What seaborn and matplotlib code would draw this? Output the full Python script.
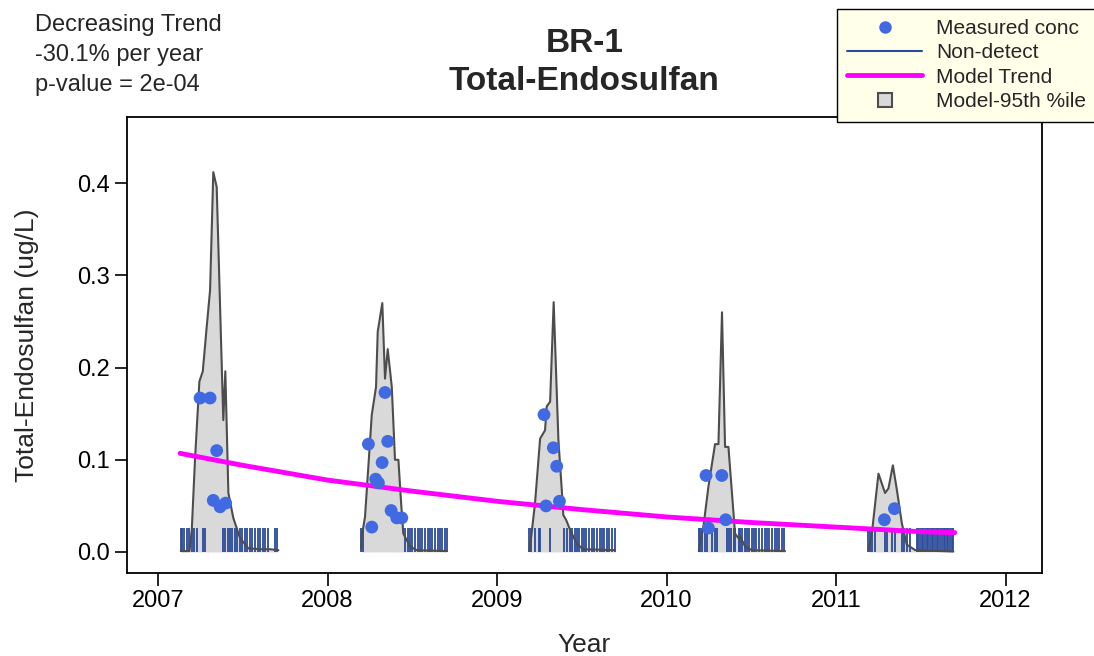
import seaborn as sns
import pandas as pd
import matplotlib.pyplot as plt
from matplotlib.lines import Line2D

# measured (detected) concentrations
det_year = [2007.248, 2007.307, 2007.346, 2007.326, 2007.366, 2007.399,
            2008.339, 2008.241, 2008.355, 2008.322, 2008.284, 2008.300, 2008.375, 2008.408, 2008.438, 2008.261,
            2009.277, 2009.332, 2009.352, 2009.289, 2009.368,
            2010.233, 2010.326, 2010.349, 2010.247,
            2011.344, 2011.285]
det_conc = [0.167, 0.167, 0.110, 0.056, 0.049, 0.053,
            0.173, 0.117, 0.120, 0.097, 0.079, 0.075, 0.045, 0.037, 0.037, 0.027,
            0.149, 0.113, 0.093, 0.050, 0.055,
            0.083, 0.083, 0.035, 0.026,
            0.047, 0.035]

# non-detect sample dates (drawn from 0 up to the reporting limit)
nd_year = [2007.134, 2007.143, 2007.155, 2007.169, 2007.185, 2007.199, 2007.214, 2007.228, 2007.264, 2007.277,
           2007.382, 2007.395, 2007.411, 2007.425, 2007.438, 2007.454, 2007.468, 2007.484, 2007.497, 2007.513,
           2007.527, 2007.543, 2007.556, 2007.572, 2007.588, 2007.602, 2007.618, 2007.631, 2007.647, 2007.690, 2007.700,
           2008.198, 2008.209, 2008.457, 2008.472, 2008.487, 2008.501, 2008.516, 2008.531, 2008.546, 2008.560,
           2008.575, 2008.590, 2008.605, 2008.619, 2008.634, 2008.649, 2008.664, 2008.678, 2008.693, 2008.705,
           2009.191, 2009.202, 2009.226, 2009.246, 2009.255, 2009.314, 2009.394, 2009.413, 2009.432, 2009.442,
           2009.462, 2009.472, 2009.486, 2009.501, 2009.511, 2009.525, 2009.541, 2009.560, 2009.574, 2009.590,
           2009.609, 2009.619, 2009.633, 2009.649, 2009.663, 2009.678, 2009.694,
           2010.190, 2010.199, 2010.209, 2010.229, 2010.239, 2010.268, 2010.288, 2010.298, 2010.357, 2010.367,
           2010.382, 2010.396, 2010.406, 2010.426, 2010.435, 2010.445, 2010.461, 2010.475, 2010.488, 2010.504,
           2010.514, 2010.527, 2010.544, 2010.563, 2010.579, 2010.593, 2010.606, 2010.622, 2010.638, 2010.652,
           2010.666, 2010.681, 2010.691,
           2011.191, 2011.201, 2011.211, 2011.230, 2011.289, 2011.299, 2011.329, 2011.348, 2011.388, 2011.398,
           2011.417, 2011.437, 2011.476, 2011.486, 2011.496, 2011.506, 2011.515, 2011.525, 2011.535, 2011.545,
           2011.555, 2011.565, 2011.574, 2011.584, 2011.594, 2011.604, 2011.614, 2011.624, 2011.634, 2011.643,
           2011.653, 2011.663, 2011.673, 2011.683, 2011.692]
nd_limit = 0.026

# model trend
trend_year = [2007.13, 2007.5, 2008.0, 2008.5, 2009.0, 2009.5, 2010.0, 2010.5, 2011.0, 2011.5, 2011.70]
trend_conc = [0.107, 0.094, 0.078, 0.066, 0.055, 0.046, 0.038, 0.032, 0.027, 0.022, 0.021]

# model 95th percentile, one piece per sampling season
q95_year_07 = [2007.134, 2007.185, 2007.199, 2007.218, 2007.244, 2007.264, 2007.287, 2007.307, 2007.326, 2007.346,
               2007.385, 2007.397, 2007.415, 2007.444, 2007.484, 2007.533, 2007.602, 2007.661, 2007.710]
q95_conc_07 = [0.001, 0.001, 0.024, 0.100, 0.185, 0.196, 0.244, 0.284, 0.412, 0.396,
               0.143, 0.196, 0.064, 0.037, 0.015, 0.004, 0.003, 0.003, 0.002]
q95_year_08 = [2008.198, 2008.202, 2008.221, 2008.261, 2008.286, 2008.296, 2008.323, 2008.339, 2008.355, 2008.379,
               2008.398, 2008.418, 2008.434, 2008.447, 2008.487, 2008.526, 2008.703]
q95_conc_08 = [0.004, 0.017, 0.038, 0.149, 0.179, 0.239, 0.270, 0.188, 0.220, 0.179,
               0.100, 0.100, 0.053, 0.020, 0.006, 0.002, 0.001]
q95_year_09 = [2009.191, 2009.195, 2009.224, 2009.254, 2009.283, 2009.293, 2009.313, 2009.334, 2009.362, 2009.382,
               2009.391, 2009.407, 2009.431, 2009.470, 2009.509, 2009.696]
q95_conc_09 = [0.001, 0.006, 0.053, 0.123, 0.132, 0.158, 0.163, 0.271, 0.121, 0.067,
               0.040, 0.035, 0.024, 0.009, 0.003, 0.002]
q95_year_10 = [2010.190, 2010.193, 2010.217, 2010.247, 2010.286, 2010.306, 2010.327, 2010.345, 2010.365, 2010.404,
               2010.424, 2010.434, 2010.463, 2010.503, 2010.699]
q95_conc_10 = [0.001, 0.004, 0.027, 0.071, 0.117, 0.117, 0.260, 0.114, 0.114, 0.020,
               0.015, 0.017, 0.006, 0.002, 0.001]
q95_year_11 = [2011.191, 2011.211, 2011.250, 2011.289, 2011.309, 2011.335, 2011.359, 2011.388, 2011.417, 2011.467,
               2011.692]
q95_conc_11 = [0.002, 0.020, 0.085, 0.064, 0.069, 0.094, 0.067, 0.031, 0.008, 0.002, 0.0005]

year_ticks = [2007, 2008, 2009, 2010, 2011, 2012]
conc_ticks = [0.0, 0.1, 0.2, 0.3, 0.4]

detected = pd.DataFrame({'year': det_year, 'conc': det_conc})
trend = pd.DataFrame({'year': trend_year, 'conc': trend_conc})
seasons = [(q95_year_07, q95_conc_07), (q95_year_08, q95_conc_08), (q95_year_09, q95_conc_09),
           (q95_year_10, q95_conc_10), (q95_year_11, q95_conc_11)]

sns.set_style('ticks')
plt.rcParams['font.family'] = ['Liberation Sans', 'DejaVu Sans']

blue = '#4169E1'
nd_blue = '#2B4A9A'
fill_grey = '#D9D9D9'
edge_grey = '#4D4D4D'

fig = plt.figure(figsize=(10.94, 6.56), dpi=100)
ax = fig.add_axes([0.1161, 0.1265, 0.8364, 0.6951])

for yrs, vals in seasons:
    ax.fill_between(yrs, 0, vals, color=fill_grey, lw=0, zorder=1)

ax.vlines(nd_year, 0, nd_limit, color=nd_blue, lw=1.3, zorder=2)

for yrs, vals in seasons:
    sns.lineplot(x=yrs, y=vals, ax=ax, color=edge_grey, lw=1.5, sort=False, estimator=None, zorder=3)

sns.lineplot(data=trend, x='year', y='conc', ax=ax, color='#FF00FF', lw=3.5, zorder=4)
sns.scatterplot(data=detected, x='year', y='conc', ax=ax, color=blue, s=85, edgecolor='none', zorder=5)

ax.set_xlim(2006.817, 2012.215)
ax.set_ylim(-0.0228, 0.4718)
ax.set_xticks(year_ticks)
ax.set_yticks(conc_ticks)
ax.set_yticklabels([f'{v:.1f}' for v in conc_ticks])
ax.tick_params(axis='both', labelsize=17, length=9, width=1.2, color='black', labelcolor='black')
for sp in ax.spines.values():
    sp.set_visible(True)
    sp.set_color('black')
    sp.set_linewidth(1.3)
ax.set_xlabel('Year', fontsize=19, labelpad=15)
ax.set_ylabel('Total-Endosulfan (ug/L)', fontsize=19, labelpad=27)

fig.text(0.534, 0.957, 'BR-1\nTotal-Endosulfan', ha='center', va='top', fontsize=24,
         fontweight='bold', linespacing=1.3)
fig.text(0.032, 0.978, 'Decreasing Trend\n-30.1% per year\np-value = 2e-04', ha='left', va='top',
         fontsize=17, linespacing=1.45)

handles = [
    Line2D([], [], ls='none', marker='o', markersize=9, color=blue, markeredgecolor='none'),
    Line2D([], [], color=nd_blue, lw=1.5),
    Line2D([], [], color='#FF00FF', lw=3.5),
    Line2D([], [], ls='none', marker='s', markersize=9.5, markerfacecolor=fill_grey,
           markeredgecolor=edge_grey, markeredgewidth=1.5),
]
labels = ['Measured conc', 'Non-detect', 'Model Trend', 'Model-95th %ile']
fig.legend(handles, labels, loc='upper left', bbox_to_anchor=(0.765, 0.987), fontsize=15,
           frameon=True, fancybox=False, facecolor='#FFFFEA', edgecolor='black', framealpha=1,
           handlelength=3.6, handletextpad=0.65, labelspacing=0.26, borderpad=0.5,
           borderaxespad=0)

fig.savefig('out.png', dpi=100)
